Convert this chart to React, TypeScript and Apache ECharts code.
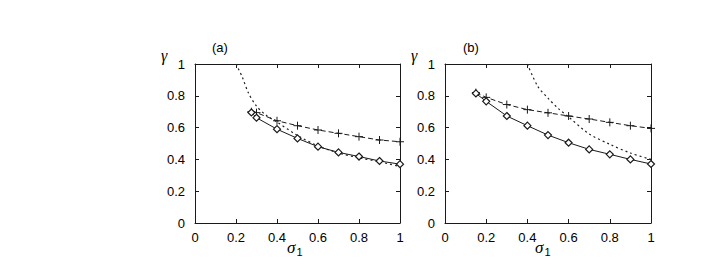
import React, { useEffect, useRef } from 'react';
import * as echarts from 'echarts';

// Axis ticks (both panels share the same scales)
const tickValues = [0, 0.2, 0.4, 0.6, 0.8, 1];
const tickLabels = ['0', '0.2', '0.4', '0.6', '0.8', '1'];

// Panel (a)
const aDiamondX = [0.275, 0.3, 0.4, 0.5, 0.6, 0.7, 0.8, 0.9, 1.0];
const aDiamondY = [0.695, 0.662, 0.59, 0.532, 0.48, 0.444, 0.418, 0.39, 0.37];
const aPlusX = [0.275, 0.3, 0.4, 0.5, 0.6, 0.7, 0.8, 0.9, 1.0];
const aPlusY = [0.7, 0.694, 0.643, 0.612, 0.585, 0.564, 0.543, 0.522, 0.511];
const aDotX = [0.2, 0.23, 0.26, 0.3, 0.35, 0.4, 0.5, 0.6, 0.7, 0.8, 0.9, 1.0];
const aDotY = [1.0, 0.92, 0.82, 0.735, 0.675, 0.635, 0.55, 0.485, 0.44, 0.41, 0.385, 0.355];

// Panel (b)
const bDiamondX = [0.15, 0.2, 0.3, 0.4, 0.5, 0.6, 0.7, 0.8, 0.9, 1.0];
const bDiamondY = [0.815, 0.765, 0.673, 0.612, 0.553, 0.505, 0.463, 0.432, 0.4, 0.371];
const bPlusX = [0.15, 0.2, 0.3, 0.4, 0.5, 0.6, 0.7, 0.8, 0.9, 1.0];
const bPlusY = [0.82, 0.79, 0.745, 0.713, 0.693, 0.673, 0.654, 0.633, 0.612, 0.595];
const bDotX = [0.4, 0.45, 0.5, 0.55, 0.6, 0.7, 0.8, 0.9, 1.0];
const bDotY = [1.0, 0.86, 0.785, 0.72, 0.667, 0.56, 0.495, 0.44, 0.4];

const zip = (xs: number[], ys: number[]) => xs.map((x, i) => [x, ys[i]]);

const INK = '#1a1a1a';
const LABEL_FONT = 'Liberation Sans, Arial, sans-serif';

function axisPair(grid: number, dir: 'x' | 'y') {
  const base = {
    type: 'value' as const,
    gridIndex: grid,
    min: 0,
    max: 1,
    interval: 0.2,
    splitLine: { show: false },
    axisLine: { show: true, onZero: false, lineStyle: { color: INK, width: 1 } },
    axisTick: { show: true, inside: true, length: 4, lineStyle: { color: INK, width: 1 } },
  };
  const main = {
    ...base,
    position: dir === 'x' ? 'bottom' : 'left',
    axisLabel: {
      show: true,
      color: '#000',
      fontFamily: LABEL_FONT,
      fontSize: 13,
      margin: dir === 'x' ? 8 : 10,
      formatter: (v: number) => tickLabels[tickValues.findIndex((t) => Math.abs(t - v) < 1e-6)] ?? '',
    },
  };
  const mirror = {
    ...base,
    position: dir === 'x' ? 'top' : 'right',
    axisLabel: { show: false },
  };
  return [main, mirror];
}

export default function App() {
  const ref = useRef<HTMLDivElement>(null);
  useEffect(() => {
    if (!ref.current) return;
    const chart = echarts.init(ref.current, null, { renderer: 'svg' });

    const plusSymbol = 'path://M5 0 L5 10 M0 5 L10 5';
    const diamondStyle = { color: '#fff', borderColor: INK, borderWidth: 1.2 };
    const plusStyle = { color: 'transparent', borderColor: INK, borderWidth: 1 };

    const makeSeries = (xi: number, yi: number, dia: number[][], plus: number[][], dot: number[][]) => [
      {
        type: 'line',
        xAxisIndex: xi,
        yAxisIndex: yi,
        data: dot,
        smooth: 0.3,
        showSymbol: false,
        clip: true,
        lineStyle: { color: '#222', width: 1.2, type: [2, 3] },
        z: 2,
      },
      {
        type: 'line',
        xAxisIndex: xi,
        yAxisIndex: yi,
        data: plus,
        symbol: plusSymbol,
        symbolSize: 8,
        lineStyle: { color: INK, width: 1, type: [5, 3] },
        itemStyle: plusStyle,
        z: 3,
      },
      {
        type: 'line',
        xAxisIndex: xi,
        yAxisIndex: yi,
        data: dia,
        symbol: 'diamond',
        symbolSize: 7,
        lineStyle: { color: INK, width: 1 },
        itemStyle: diamondStyle,
        z: 4,
      },
    ];

    const [ax, axTop] = axisPair(0, 'x');
    const [bx, bxTop] = axisPair(1, 'x');
    const [ay, ayRight] = axisPair(0, 'y');
    const [by, byRight] = axisPair(1, 'y');

    const sigmaText = (x: number) => ({
      type: 'text',
      left: x,
      top: 239,
      style: {
        text: '{s|σ}{sub|1}',
        rich: {
          s: { fontFamily: 'Liberation Serif, serif', fontStyle: 'italic', fontSize: 17, fill: '#000' },
          sub: { fontFamily: LABEL_FONT, fontSize: 11, fill: '#000', padding: [8, 0, 0, 1] },
        },
      },
    });
    const gammaText = (x: number) => ({
      type: 'text',
      left: x,
      top: 47,
      style: {
        text: 'γ',
        fontFamily: 'Liberation Serif, serif',
        fontStyle: 'italic',
        fontSize: 16,
        fill: '#000',
      },
    });
    const panelText = (x: number, t: string) => ({
      type: 'text',
      left: x,
      top: 41,
      style: { text: t, fontFamily: LABEL_FONT, fontSize: 13, fill: '#000' },
    });

    chart.setOption({
      animation: false,
      backgroundColor: '#fff',
      grid: [
        { left: 195, top: 64, width: 205, height: 159, containLabel: false },
        { left: 445, top: 64, width: 206, height: 159, containLabel: false },
      ],
      xAxis: [ax, axTop, bx, bxTop],
      yAxis: [ay, ayRight, by, byRight],
      series: [
        ...makeSeries(0, 0, zip(aDiamondX, aDiamondY), zip(aPlusX, aPlusY), zip(aDotX, aDotY)),
        ...makeSeries(2, 2, zip(bDiamondX, bDiamondY), zip(bPlusX, bPlusY), zip(bDotX, bDotY)),
      ],
      graphic: [
        panelText(212, '(a)'),
        panelText(463, '(b)'),
        gammaText(161),
        gammaText(411),
        sigmaText(287),
        sigmaText(535),
      ],
    });
    return () => chart.dispose();
  }, []);
  return (
    <div
      ref={ref}
      style={{ position: 'fixed', left: 0, top: 0, width: 709, height: 275 }}
    />
  );
}
